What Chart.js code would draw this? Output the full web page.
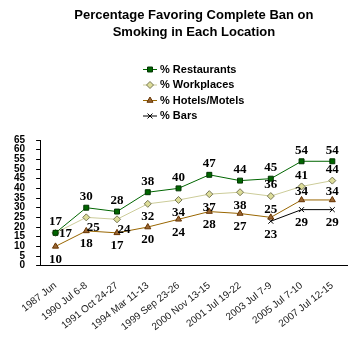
<!DOCTYPE html>
<html>
<head>
<meta charset="utf-8">
<script src="https://cdn.jsdelivr.net/npm/chart.js@4.4.1/dist/chart.umd.min.js"></script>
<style>
  html, body { margin: 0; padding: 0; background: #fff; }
  #wrap { width: 354px; height: 362px; position: relative; }
</style>
</head>
<body>
<div id="wrap"><canvas id="c" width="354" height="362"></canvas></div>
<script>
// ---- data ----
const titleLines = ['Percentage Favoring Complete Ban on', 'Smoking in Each Location'];
const categories = ['1987 Jun','1990 Jul 6-8','1991 Oct 24-27','1994 Mar 11-13','1999 Sep 23-26','2000 Nov 13-15','2001 Jul 19-22','2003 Jul 7-9','2005 Jul 7-10','2007 Jul 12-15'];
const seriesNames = ['% Restaurants', '% Workplaces', '% Hotels/Motels', '% Bars'];
const restaurants = [17, 30, 28, 38, 40, 47, 44, 45, 54, 54];
const workplaces  = [17, 25, 24, 32, 34, 37, 38, 36, 41, 44];
const hotels      = [10, 18, 17, 20, 24, 28, 27, 25, 34, 34];
const bars        = [null, null, null, null, null, null, null, 23, 29, 29];
const yTicks = { min: 0, max: 65, step: 5 };

// ---- label placement (layout, not data) ----
const labelPlacement = [
  ['above','above','above','above','above','above','above','above','above','above'],
  ['right','belowright','belowright','below','below','below','below','above','above','above'],
  ['below','below','below','below','below','below','below','aboveclose','aboveclose','aboveclose'],
  ['below','below','below','below','below','below','below','below','below','below']
];
const placementOffsets = {
  above: [0, -11], aboveclose: [0, -8], below: [0, 13], right: [10, 1], belowright: [7, 10]
};

const colors = [
  { line: '#006600', fill: '#006600', border: '#003300', style: 'rect', radius: 3.5 },
  { line: '#CCCC99', fill: '#DDDD99', border: '#777755', style: 'rectRot', radius: 3.5 },
  { line: '#996600', fill: '#996633', border: '#663300', style: 'triangle', radius: 3.5 },
  { line: '#000000', fill: '#000000', border: '#000000', style: 'crossRot', radius: 3.5 }
];

const seriesData = [restaurants, workplaces, hotels, bars];

const datasets = seriesData.map((d, i) => ({
  label: seriesNames[i],
  data: d,
  borderColor: colors[i].line,
  backgroundColor: colors[i].fill,
  borderWidth: 1,
  pointStyle: colors[i].style,
  pointRadius: colors[i].radius,
  pointBackgroundColor: colors[i].fill,
  pointBorderColor: colors[i].border,
  pointBorderWidth: 1,
  tension: 0,
  spanGaps: false
}));

const SANS = '"Liberation Sans", Arial, sans-serif';
const SERIF = '"Liberation Serif", "Times New Roman", serif';

const customPlugin = {
  id: 'custom',
  afterDraw(chart) {
    const ctx = chart.ctx;
    const area = chart.chartArea;
    ctx.save();
    // title
    ctx.fillStyle = '#000';
    ctx.font = 'bold 13px ' + SANS;
    ctx.textAlign = 'center';
    ctx.textBaseline = 'middle';
    const cx = (area.left + area.right) / 2;
    titleLines.forEach((t, i) => ctx.fillText(t, cx, 15 + i * 17));

    // legend
    const lx = 143, ly = 69, lgap = 15.5;
    ctx.font = 'bold 11px ' + SANS;
    ctx.textAlign = 'left';
    seriesNames.forEach((name, i) => {
      const y = ly + i * lgap + 0.5;
      ctx.strokeStyle = colors[i].line;
      ctx.lineWidth = 1;
      ctx.beginPath();
      ctx.moveTo(lx, y);
      ctx.lineTo(lx + 14, y);
      ctx.stroke();
      ctx.fillStyle = colors[i].fill;
      ctx.strokeStyle = colors[i].border;
      Chart.helpers.drawPoint(ctx, {
        pointStyle: colors[i].style, radius: 3.5, rotation: 0, borderWidth: 1
      }, lx + 7, y);
      ctx.fillStyle = '#000';
      ctx.fillText(name, lx + 17, y);
    });

    // data labels
    ctx.font = 'bold 13px ' + SERIF;
    ctx.textAlign = 'center';
    ctx.textBaseline = 'middle';
    ctx.fillStyle = '#000';
    chart.data.datasets.forEach((ds, di) => {
      const meta = chart.getDatasetMeta(di);
      meta.data.forEach((pt, j) => {
        const v = ds.data[j];
        if (v === null || v === undefined) return;
        const off = placementOffsets[labelPlacement[di][j]];
        ctx.fillText(String(v), pt.x + off[0], pt.y + off[1]);
      });
    });
    ctx.restore();
  }
};

new Chart(document.getElementById('c'), {
  type: 'line',
  data: { labels: categories, datasets },
  options: {
    responsive: false,
    animation: false,
    devicePixelRatio: 1,
    layout: { padding: { top: 140, left: 3, right: 6, bottom: 15 } },
    plugins: {
      legend: { display: false },
      title: { display: false },
      tooltip: { enabled: false }
    },
    scales: {
      x: {
        offset: true,
        grid: { display: false, drawTicks: false },
        border: { display: true, color: '#000', width: 1 },
        ticks: {
          autoSkip: false,
          minRotation: 38,
          maxRotation: 38,
          padding: 14,
          color: '#222',
          font: { family: SANS, size: 10 }
        }
      },
      y: {
        min: yTicks.min,
        max: yTicks.max,
        grid: { drawOnChartArea: false, drawTicks: true, tickLength: 4, color: '#000' },
        border: { display: true, color: '#000', width: 1 },
        ticks: {
          autoSkip: false,
          stepSize: yTicks.step,
          padding: 11,
          color: '#000',
          font: { family: SANS, size: 10, weight: 'bold', lineHeight: 1 }
        }
      }
    }
  },
  plugins: [customPlugin]
});
</script>
</body>
</html>
